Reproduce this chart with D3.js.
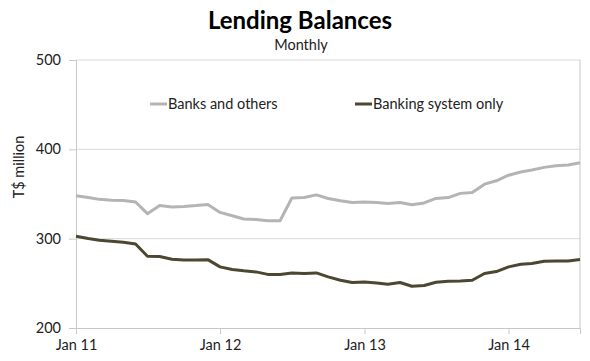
<!DOCTYPE html>
<html>
<head>
<meta charset="utf-8">
<script src="https://cdn.jsdelivr.net/npm/d3@7"></script>
<style>
  body { margin: 0; background: #fff; }
  svg { display: block; font-family: Lato, "Open Sans", sans-serif; }
</style>
</head>
<body>
<div id="chart"></div>
<script>
// monthly values, Jan 2011 .. Jul 2014
const firstMonth = new Date(2011, 0, 1);

const banksAndOthers = [
  348, 346, 344, 343, 342.8, 341, 328, 337, 335.5, 336, 337, 338.3,
  329.4, 325.6, 322, 321.5, 320, 320, 345.5, 346, 349, 345, 342.5, 340.5,
  341, 340.5, 339.5, 340.5, 338, 340, 345, 346, 350.7, 351.8, 361, 364.8,
  371, 374.6, 376.8, 379.8, 381.6, 382.4, 385
];

const bankingSystemOnly = [
  302.8, 300.2, 298.3, 297.2, 296, 294, 280.4, 280, 277, 276, 276, 276.5,
  268.4, 265.5, 264, 262.8, 260, 260, 261.5, 261, 261.7, 257.2, 253.5, 251,
  251.6, 250.5, 249, 250.9, 246.7, 247.5, 251.2, 252.3, 252.7, 253.5, 261, 263.2,
  268.4, 271.4, 272.2, 274.8, 275.1, 275.1, 276.7
];

const seriesNames = ["Banks and others", "Banking system only"];
const yTicks = [200, 300, 400, 500];
const xTickYears = [2011, 2012, 2013, 2014];

const width = 590, height = 361;
const margin = {top: 60, right: 10, bottom: 33, left: 76};
const labelFont = "14.5px";

const svg = d3.select("#chart").append("svg")
    .attr("width", width)
    .attr("height", height);

const months = banksAndOthers.map((d, i) => d3.timeMonth.offset(firstMonth, i));

const x = d3.scaleTime()
    .domain(d3.extent(months))
    .range([margin.left, width - margin.right]);

const y = d3.scaleLinear()
    .domain([200, 500])
    .range([height - margin.bottom, margin.top]);

// title
svg.append("text")
    .attr("x", 300).attr("y", 29)
    .attr("text-anchor", "middle")
    .style("font-weight", "bold")
    .style("font-size", "24px")
    .style("fill", "#000")
    .text("Lending Balances");

svg.append("text")
    .attr("x", 301).attr("y", 50)
    .attr("text-anchor", "middle")
    .style("font-size", "14.5px")
    .style("fill", "#222")
    .text("Monthly");

// gridlines
svg.append("g")
    .selectAll("line")
    .data(yTicks.slice(1))
    .enter().append("line")
    .attr("x1", margin.left)
    .attr("x2", width - margin.right)
    .attr("y1", d => y(d))
    .attr("y2", d => y(d))
    .style("stroke", "#d9d9d9")
    .style("stroke-width", 1);

// right border
svg.append("line")
    .attr("x1", width - margin.right).attr("x2", width - margin.right)
    .attr("y1", y(500)).attr("y2", y(200))
    .style("stroke", "#c8c8c8");

// y axis
const yAxis = svg.append("g")
    .attr("transform", `translate(${margin.left},0)`)
    .call(d3.axisLeft(y).tickValues(yTicks).tickSize(7).tickPadding(8));

// x axis
const xAxis = svg.append("g")
    .attr("transform", `translate(0,${height - margin.bottom})`)
    .call(d3.axisBottom(x)
        .tickValues(xTickYears.map(yr => new Date(yr, 0, 1)))
        .tickFormat(d3.timeFormat("Jan %y"))
        .tickSize(6).tickPadding(6));

[yAxis, xAxis].forEach(g => {
    g.select(".domain").style("stroke", "#c8c8c8");
    g.selectAll(".tick line").style("stroke", "#c8c8c8");
    g.selectAll("text")
        .style("font-family", "Lato, 'Open Sans', sans-serif")
        .style("font-size", labelFont)
        .style("fill", "#222");
});

svg.append("text")
    .attr("transform", "translate(24,167) rotate(-90)")
    .attr("text-anchor", "middle")
    .style("font-size", labelFont)
    .style("fill", "#222")
    .text("T$ million");

// lines
const line = d3.line()
    .x((d, i) => x(months[i]))
    .y(d => y(d));

const colors = ["#b4b4b4", "#4b4731"];

[banksAndOthers, bankingSystemOnly].forEach((s, k) => {
    svg.append("path")
        .datum(s)
        .attr("d", line)
        .style("fill", "none")
        .style("stroke", colors[k])
        .style("stroke-width", 3)
        .style("stroke-linejoin", "round");
});

// legend
const legendX = [150, 355];
const legend = svg.append("g")
    .selectAll("g")
    .data(seriesNames)
    .enter().append("g")
    .attr("transform", (d, i) => `translate(${legendX[i]},104)`);

legend.append("line")
    .attr("x1", 0).attr("x2", 17)
    .style("stroke", (d, i) => colors[i])
    .style("stroke-width", 3);

legend.append("text")
    .attr("x", 18)
    .attr("dy", "0.35em")
    .style("font-size", labelFont)
    .style("fill", "#222")
    .text(d => d);
</script>
</body>
</html>
